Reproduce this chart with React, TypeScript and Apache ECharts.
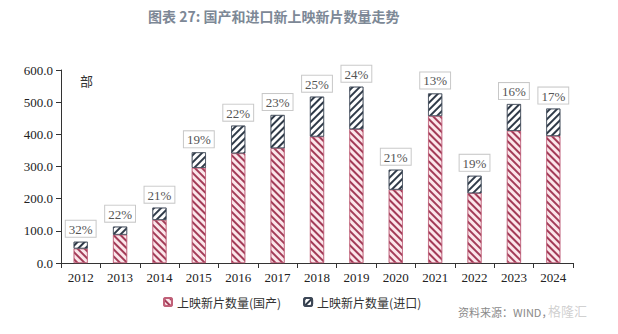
import React, { useEffect, useRef } from "react";
import * as echarts from "echarts";

const years = ["2012", "2013", "2014", "2015", "2016", "2017", "2018", "2019", "2020", "2021", "2022", "2023", "2024"];
const domestic = [45, 88, 134, 296, 341, 357, 393, 416, 228, 457, 217, 411, 395];
const imported = [21, 25, 38, 48, 86, 103, 124, 132, 62, 70, 54, 83, 85];
const shareLabels = ["32%", "22%", "21%", "19%", "22%", "23%", "25%", "24%", "21%", "13%", "19%", "16%", "17%"];
const seriesNames = ["上映新片数量(国产)", "上映新片数量(进口)"];

export default function App() {
  const ref = useRef<HTMLDivElement>(null);
  useEffect(() => {
    if (!ref.current) return;
    const chart = echarts.init(ref.current, null, { renderer: "svg" });
    const serif = "Liberation Serif, DejaVu Serif, serif";
    const cjk = "Noto Sans CJK SC";
    chart.setOption({
      animation: false,
      backgroundColor: "#ffffff",
      textStyle: { fontFamily: serif },
      title: {
        text: "图表 27: 国产和进口新上映新片数量走势",
        left: 143,
        top: 4,
        textStyle: { fontSize: 14, fontWeight: "bold", color: "#7d8896", fontFamily: cjk },
      },
      grid: { left: 61, right: 45, top: 70, bottom: 71, containLabel: false },
      legend: {
        left: 158,
        top: 291,
        itemWidth: 8,
        itemHeight: 8,
        itemGap: 22,
        textStyle: { fontSize: 12, color: "#333", fontFamily: cjk },
        data: seriesNames,
      },
      xAxis: {
        type: "category",
        data: years,
        axisLine: { lineStyle: { color: "#333" } },
        axisTick: { show: true, lineStyle: { color: "#333" } },
        axisLabel: { color: "#222", fontSize: 13, fontFamily: serif, margin: 8 },
      },
      yAxis: {
        type: "value",
        min: 0,
        max: 600,
        interval: 100,
        splitLine: { show: false },
        axisLine: { show: true, lineStyle: { color: "#333" } },
        axisTick: { show: true, lineStyle: { color: "#333" } },
        axisLabel: { color: "#222", fontSize: 13, fontFamily: serif, margin: 8, formatter: (v: number) => v.toFixed(1) },
      },
      series: [
        {
          name: seriesNames[0],
          type: "bar",
          stack: "total",
          barWidth: 14,
          data: domestic,
          itemStyle: {
            color: "#fbe6ea",
            borderColor: "#c06078",
            borderWidth: 0.6,
            decal: {
              symbol: "rect",
              symbolSize: 1,
              dashArrayX: [1, 0],
              dashArrayY: [2, 3],
              rotation: Math.PI / 4,
              color: "#a33c58",
            },
          },
        },
        {
          name: seriesNames[1],
          type: "bar",
          stack: "total",
          barWidth: 14,
          data: imported,
          itemStyle: {
            color: "#ffffff",
            borderColor: "#3d4756",
            borderWidth: 0.6,
            decal: {
              symbol: "rect",
              symbolSize: 1,
              dashArrayX: [1, 0],
              dashArrayY: [2, 3],
              rotation: -Math.PI / 4,
              color: "#2f3a48",
            },
          },
          label: {
            show: true,
            position: "top",
            distance: 5,
            formatter: (p: any) => shareLabels[p.dataIndex],
            backgroundColor: "#ffffff",
            borderColor: "#c8c8c8",
            borderWidth: 1,
            padding: [2, 3, 1, 3],
            color: "#555",
            fontSize: 13,
            fontFamily: serif,
          },
        },
      ],
      graphic: [
        { type: "text", left: 80, top: 74, style: { text: "部", fontSize: 13, fill: "#333", fontFamily: cjk } },
        { type: "text", left: 458, top: 306, style: { text: "资料来源：WIND，", fontSize: 11, fill: "#8a8a8a", fontFamily: cjk } },
        { type: "text", left: 548, top: 304, style: { text: "格隆汇", fontSize: 13, fill: "rgba(150,150,150,0.45)", fontFamily: cjk } },
      ],
    });
    return () => chart.dispose();
  }, []);
  return <div ref={ref} style={{ width: 618, height: 334, position: "absolute", left: 0, top: 0 }} />;
}
